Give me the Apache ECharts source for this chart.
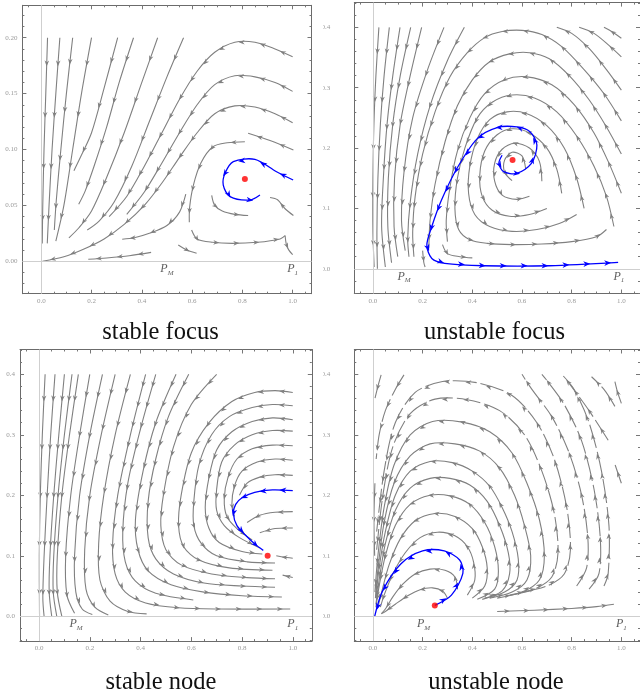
<!DOCTYPE html>
<html><head><meta charset="utf-8">
<script src="https://cdn.jsdelivr.net/npm/echarts@6/dist/echarts.min.js"></script>
<style>html,body{margin:0;padding:0;background:#fff}#c{width:640px;height:695px}</style>
</head><body><div id="c"></div>
<script>
// ---------------- data ----------------
const titles = ['stable focus', 'unstable focus', 'stable node', 'unstable node'];
const xMajor = [0.0, 0.2, 0.4, 0.6, 0.8, 1.0];
const yMajorP1 = [0.00, 0.05, 0.10, 0.15, 0.20];
const yMajor = [0.0, 0.1, 0.2, 0.3, 0.4];
const fixedPoints = [[0.81, 0.0736], [0.562, 0.18], [0.901, 0.1], [0.249, 0.018]];
const pmX = [0.5, 0.125, 0.146, 0.204];
const p1X = [1.0, 0.99, 1.0, 1.0];

// stable focus streamlines (points listed in flow direction)
const grayP1 = [
  [[0.025,0.2],[0.018,0.15],[0.011,0.1],[0.006,0.05],[0.004,0.016]],
  [[0.074,0.2],[0.058,0.15],[0.043,0.1],[0.031,0.05],[0.024,0.016]],
  [[0.125,0.2],[0.1,0.15],[0.078,0.1],[0.06,0.055],[0.052,0.028]],
  [[0.2,0.2],[0.16,0.15],[0.125,0.1],[0.09,0.05],[0.058,0.018]],
  [[0.304,0.2],[0.25,0.155],[0.2,0.115],[0.16,0.095],[0.13,0.081]],
  [[0.367,0.2],[0.31,0.16],[0.26,0.12],[0.21,0.085],[0.175,0.063],[0.149,0.051]],
  [[0.463,0.2],[0.4,0.16],[0.33,0.115],[0.26,0.075],[0.2,0.045],[0.15,0.03],[0.11,0.021]],
  [[0.566,0.2],[0.5,0.165],[0.43,0.125],[0.36,0.085],[0.29,0.053],[0.23,0.036],[0.183,0.028]],
  [[1.0,0.183],[0.93,0.19],[0.85,0.196],[0.77,0.196],[0.69,0.187],[0.62,0.17],[0.55,0.145],[0.48,0.115],[0.41,0.085],[0.34,0.058],[0.27,0.04]],
  [[1.0,0.152],[0.93,0.16],[0.85,0.165],[0.77,0.166],[0.69,0.158],[0.62,0.14],[0.55,0.115],[0.48,0.088],[0.41,0.062],[0.34,0.042]],
  [[1.0,0.124],[0.93,0.132],[0.85,0.138],[0.77,0.139],[0.69,0.132],[0.62,0.115],[0.55,0.093],[0.48,0.07],[0.41,0.05],[0.33,0.033],[0.25,0.02],[0.17,0.011],[0.09,0.004],[0.005,0.0]],
  [[1.003,0.0996],[0.91,0.108],[0.823,0.1145]],
  [[0.81,0.107],[0.74,0.106],[0.683,0.1025],[0.635,0.088],[0.605,0.068],[0.59,0.048],[0.589,0.035]],
  [[0.575,0.06],[0.55,0.044],[0.5,0.032],[0.43,0.025],[0.37,0.021],[0.322,0.0197]],
  [[0.437,0.008],[0.35,0.005],[0.26,0.003],[0.187,0.0018]],
  [[0.678,0.059],[0.69,0.05],[0.72,0.045],[0.77,0.042],[0.823,0.041]],
  [[0.598,0.028],[0.62,0.02],[0.68,0.017],[0.76,0.016],[0.86,0.017],[0.95,0.02],[0.97,0.023]],
  [[0.97,0.023],[0.975,0.015],[0.985,0.01],[1.0,0.006]],
  [[1.003,0.041],[0.97,0.047],[0.94,0.055],[0.91,0.057]],
  [[0.545,0.0146],[0.58,0.01],[0.618,0.0072]]
];
const gapP1 = [50,50,50,50,45,45,45,45];
const blueP1 = [
  [[1.002,0.0727],[0.936,0.0801],[0.85,0.0912],[0.764,0.0891],[0.731,0.0787],[0.724,0.0682],[0.751,0.0578],[0.83,0.0548],[0.87,0.0593]]
];

// unstable focus streamlines
const grayP2 = [
  [[0.024,0.4],[0.012,0.32],[0.004,0.24],[0.0,0.15],[0.0,0.06],[0.005,0.003]],
  [[0.066,0.4],[0.045,0.32],[0.03,0.24],[0.02,0.15],[0.016,0.06],[0.018,0.0]],
  [[0.109,0.4],[0.08,0.32],[0.057,0.24],[0.042,0.15],[0.035,0.07],[0.05,0.003]],
  [[0.152,0.4],[0.11,0.32],[0.08,0.24],[0.062,0.15],[0.06,0.07],[0.075,0.01]],
  [[0.196,0.4],[0.15,0.32],[0.11,0.24],[0.087,0.15],[0.085,0.07],[0.1,0.02]],
  [[0.286,0.4],[0.22,0.33],[0.16,0.25],[0.125,0.16],[0.115,0.08],[0.13,0.03]],
  [[0.368,0.4],[0.3,0.345],[0.23,0.27],[0.18,0.19],[0.15,0.11],[0.14,0.05],[0.145,0.02]],
  [[1.0,0.382],[0.965,0.392],[0.93,0.4]],
  [[1.0,0.351],[0.95,0.37],[0.89,0.39],[0.83,0.4]],
  [[1.0,0.296],[0.94,0.33],[0.87,0.365],[0.8,0.39],[0.74,0.4]],
  [[1.0,0.245],[0.93,0.29],[0.85,0.33],[0.76,0.368],[0.68,0.388],[0.6,0.395],[0.52,0.393],[0.45,0.383],[0.38,0.358],[0.31,0.318],[0.25,0.26],[0.2,0.19],[0.17,0.12],[0.16,0.06],[0.165,0.02]],
  [[1.0,0.19],[0.94,0.235],[0.87,0.28],[0.79,0.32],[0.71,0.348],[0.63,0.358],[0.55,0.356],[0.47,0.343],[0.4,0.313],[0.34,0.27],[0.29,0.21],[0.25,0.14],[0.23,0.08],[0.225,0.035]],
  [[1.0,0.125],[0.95,0.175],[0.89,0.225],[0.81,0.272],[0.72,0.305],[0.62,0.318],[0.53,0.313],[0.45,0.29],[0.39,0.25],[0.34,0.195],[0.31,0.135],[0.295,0.08],[0.3,0.045]],
  [[0.97,0.07],[0.94,0.12],[0.89,0.17],[0.82,0.22],[0.74,0.26],[0.65,0.283],[0.56,0.288],[0.48,0.276],[0.42,0.25],[0.37,0.2],[0.34,0.15],[0.33,0.1],[0.345,0.065],[0.39,0.048],[0.46,0.042],[0.56,0.04],[0.68,0.041],[0.8,0.045],[0.9,0.053],[0.94,0.065]],
  [[0.85,0.1],[0.82,0.15],[0.77,0.2],[0.7,0.237],[0.62,0.257],[0.54,0.26],[0.47,0.247],[0.42,0.215],[0.39,0.17],[0.385,0.125],[0.41,0.09],[0.47,0.07],[0.56,0.062],[0.66,0.065],[0.75,0.075],[0.82,0.09]],
  [[0.76,0.125],[0.74,0.165],[0.7,0.2],[0.63,0.225],[0.56,0.232],[0.5,0.222],[0.45,0.195],[0.43,0.155],[0.44,0.12],[0.48,0.097],[0.55,0.087],[0.63,0.09],[0.7,0.1]],
  [[0.68,0.145],[0.67,0.178],[0.63,0.2],[0.57,0.208],[0.52,0.198],[0.49,0.175],[0.49,0.145],[0.52,0.122],[0.58,0.115],[0.63,0.12]],
  [[0.615,0.165],[0.6,0.187],[0.56,0.193],[0.53,0.18],[0.53,0.16],[0.56,0.146]],
  [[0.28,0.04],[0.3,0.025],[0.35,0.02],[0.4,0.018]],
  [[0.2,0.03],[0.205,0.01],[0.21,0.003]]
];
const gapP2 = [45,45,42,40,38,35,32];
const blueP2 = [
  [[0.52,0.188],[0.507,0.1745],[0.526,0.161],[0.579,0.158],[0.638,0.1745],[0.66,0.205],[0.632,0.227],[0.579,0.235],[0.5,0.234],[0.421,0.216],[0.342,0.169],[0.276,0.114],[0.237,0.07],[0.217,0.039],[0.237,0.017],[0.289,0.009],[0.447,0.005],[0.711,0.005],[0.987,0.0105]]
];

// stable node streamlines
const grayP3 = [
  [[0.024,0.4],[0.013,0.3],[0.005,0.2],[0.001,0.1],[0.002,0.0]],
  [[0.063,0.4],[0.046,0.3],[0.032,0.2],[0.02,0.1],[0.015,0.03],[0.02,0.0]],
  [[0.1,0.4],[0.078,0.3],[0.058,0.2],[0.043,0.1],[0.04,0.04],[0.05,0.0]],
  [[0.13,0.4],[0.1,0.3],[0.075,0.2],[0.058,0.1],[0.056,0.04],[0.07,0.0]],
  [[0.155,0.4],[0.12,0.3],[0.09,0.2],[0.072,0.1],[0.072,0.04],[0.09,0.0]],
  [[0.2,0.4],[0.16,0.3],[0.125,0.2],[0.105,0.1],[0.11,0.035],[0.14,0.005]],
  [[0.25,0.4],[0.2,0.3],[0.16,0.2],[0.14,0.1],[0.145,0.04],[0.17,0.012],[0.21,0.003]],
  [[0.3,0.4],[0.245,0.3],[0.2,0.2],[0.18,0.11],[0.185,0.045],[0.22,0.015],[0.273,0.002]],
  [[0.36,0.4],[0.3,0.3],[0.255,0.2],[0.235,0.12],[0.24,0.06],[0.28,0.025],[0.35,0.008],[0.424,0.004]],
  [[0.42,0.4],[0.36,0.3],[0.31,0.2],[0.29,0.12],[0.3,0.07],[0.34,0.04],[0.42,0.022],[0.55,0.014],[0.7,0.012],[0.99,0.012]],
  [[0.46,0.4],[0.4,0.31],[0.35,0.22],[0.33,0.14],[0.34,0.09],[0.38,0.058],[0.46,0.038],[0.608,0.027]],
  [[0.54,0.4],[0.46,0.32],[0.41,0.24],[0.38,0.16],[0.39,0.11],[0.43,0.075],[0.52,0.052],[0.65,0.04],[0.8,0.034],[0.957,0.032]],
  [[0.59,0.4],[0.51,0.33],[0.46,0.26],[0.43,0.19],[0.43,0.13],[0.46,0.095],[0.53,0.07],[0.65,0.055],[0.8,0.05],[0.93,0.048]],
  [[0.7,0.4],[0.6,0.35],[0.53,0.28],[0.49,0.2],[0.48,0.15],[0.5,0.11],[0.56,0.085],[0.68,0.07],[0.82,0.064],[0.93,0.062]],
  [[1.0,0.37],[0.93,0.373],[0.85,0.37],[0.76,0.355],[0.67,0.32],[0.6,0.27],[0.56,0.2],[0.55,0.15],[0.57,0.115],[0.63,0.093],[0.75,0.08],[0.92,0.076]],
  [[1.0,0.348],[0.92,0.35],[0.84,0.345],[0.75,0.33],[0.68,0.3],[0.63,0.25],[0.61,0.19],[0.61,0.15],[0.64,0.12],[0.7,0.1],[0.82,0.09],[0.93,0.088]],
  [[1.0,0.325],[0.92,0.328],[0.84,0.322],[0.76,0.305],[0.7,0.275],[0.67,0.23],[0.655,0.18],[0.67,0.145],[0.71,0.122],[0.8,0.107],[0.88,0.103]],
  [[1.0,0.306],[0.92,0.307],[0.84,0.3],[0.77,0.283],[0.72,0.255],[0.7,0.21],[0.7,0.175],[0.73,0.15],[0.79,0.13],[0.87,0.113]],
  [[1.0,0.282],[0.92,0.283],[0.84,0.277],[0.78,0.26],[0.745,0.23],[0.73,0.195],[0.74,0.165],[0.78,0.145],[0.84,0.126]],
  [[1.0,0.258],[0.93,0.26],[0.86,0.255],[0.8,0.24],[0.77,0.215],[0.76,0.185],[0.77,0.165]],
  [[1.0,0.233],[0.93,0.234],[0.87,0.23],[0.82,0.22],[0.79,0.2]],
  [[1.0,0.173],[0.93,0.172],[0.87,0.167],[0.82,0.155]],
  [[1.0,0.146],[0.93,0.145],[0.87,0.138]],
  [[1.0,0.096],[0.96,0.098],[0.935,0.1]],
  [[1.0,0.064],[0.96,0.068]]
];
const gapP3 = [50,50,48,45,45,42,40,38,35];
const blueP3 = [
  [[1.0,0.2077],[0.92,0.209],[0.85,0.205],[0.8,0.196],[0.775,0.185],[0.766,0.17],[0.78,0.15],[0.819,0.132],[0.855,0.118],[0.884,0.109]]
];

// unstable node streamlines
const grayP4 = [
  [[0.3,0.03],[0.28,0.042],[0.24,0.047],[0.19,0.044],[0.14,0.034],[0.09,0.02],[0.05,0.008],[0.033,0.004]],
  [[0.34,0.045],[0.33,0.065],[0.29,0.076],[0.23,0.078],[0.17,0.07],[0.12,0.053],[0.08,0.032],[0.05,0.012],[0.035,0.005]],
  [[0.38,0.035],[0.41,0.06],[0.405,0.09],[0.38,0.115],[0.33,0.133],[0.26,0.139],[0.19,0.13],[0.13,0.105],[0.08,0.07],[0.045,0.035],[0.03,0.015]],
  [[0.4,0.03],[0.45,0.05],[0.46,0.08],[0.44,0.115],[0.4,0.145],[0.33,0.165],[0.25,0.17],[0.17,0.158],[0.11,0.128],[0.065,0.085],[0.035,0.04],[0.02,0.015]],
  [[0.42,0.028],[0.49,0.045],[0.505,0.075],[0.49,0.115],[0.45,0.155],[0.39,0.185],[0.31,0.199],[0.23,0.2],[0.15,0.185],[0.09,0.15],[0.05,0.1],[0.025,0.05],[0.012,0.015]],
  [[0.44,0.028],[0.52,0.042],[0.55,0.07],[0.545,0.105],[0.51,0.15],[0.46,0.19],[0.39,0.217],[0.31,0.228],[0.23,0.228],[0.15,0.212],[0.09,0.175],[0.05,0.12],[0.025,0.06],[0.012,0.02]],
  [[0.45,0.03],[0.53,0.04],[0.58,0.06],[0.585,0.095],[0.56,0.14],[0.52,0.18],[0.47,0.215],[0.4,0.24],[0.32,0.254],[0.23,0.256],[0.15,0.24],[0.09,0.2],[0.05,0.14],[0.025,0.08],[0.012,0.03]],
  [[0.47,0.03],[0.56,0.04],[0.62,0.06],[0.635,0.1],[0.61,0.15],[0.57,0.2],[0.51,0.245],[0.43,0.273],[0.33,0.285],[0.23,0.285],[0.15,0.265],[0.085,0.22],[0.045,0.155],[0.022,0.085],[0.01,0.03]],
  [[0.5,0.03],[0.6,0.04],[0.67,0.06],[0.69,0.1],[0.67,0.16],[0.62,0.22],[0.56,0.27],[0.47,0.305],[0.36,0.321],[0.24,0.322],[0.15,0.3],[0.085,0.25],[0.045,0.18],[0.02,0.1],[0.008,0.04]],
  [[0.55,0.035],[0.65,0.045],[0.72,0.065],[0.745,0.105],[0.73,0.17],[0.68,0.24],[0.61,0.3],[0.51,0.34],[0.38,0.358],[0.25,0.359],[0.15,0.335],[0.08,0.28],[0.04,0.2],[0.015,0.11]],
  [[0.6,0.04],[0.7,0.05],[0.77,0.07],[0.795,0.11],[0.78,0.18],[0.73,0.26],[0.66,0.32],[0.56,0.365],[0.42,0.386],[0.28,0.388],[0.17,0.37],[0.09,0.32],[0.045,0.24],[0.015,0.14]],
  [[0.82,0.05],[0.86,0.08],[0.865,0.13],[0.84,0.2],[0.79,0.27],[0.72,0.33],[0.64,0.375],[0.6,0.4]],
  [[0.87,0.045],[0.91,0.071],[0.915,0.13],[0.89,0.21],[0.84,0.29],[0.77,0.35],[0.7,0.39],[0.68,0.4]],
  [[0.93,0.05],[0.947,0.071],[0.95,0.15],[0.92,0.24],[0.87,0.32],[0.81,0.375],[0.76,0.4]],
  [[0.947,0.291],[0.87,0.34],[0.79,0.385]],
  [[0.974,0.347],[0.93,0.375],[0.88,0.396]],
  [[1.0,0.352],[0.985,0.37],[0.974,0.388]],
  [[1.0,0.22],[0.975,0.25]],
  [[0.125,0.399],[0.09,0.375],[0.05,0.34],[0.025,0.3],[0.013,0.26]],
  [[0.033,0.399],[0.02,0.38],[0.007,0.358]],
  [[0.008,0.22],[0.004,0.16],[0.007,0.1]],
  [[0.5,0.008],[0.65,0.01],[0.8,0.013],[0.9,0.016],[0.97,0.02]]
];
const dashP4 = [9,10,11,12,13,14,15,16,17,18,19];
const gapP4 = [];
const blueP4 = [
  [[0.249,0.018],[0.316,0.035],[0.362,0.071],[0.349,0.093],[0.287,0.108],[0.2,0.108],[0.112,0.0865],[0.039,0.042],[0.007,0.0]]
];

// ---------------- layout ----------------
const panels = [
  {left:22.4, top:5.3, width:289.1, height:288.4, ymin:-0.029, ymax:0.229, yMajor:yMajorP1, yMinorStep:0.01, yDec:2, gray:grayP1, gap:gapP1, dash:[], blue:blueP1, tx:160.5, ty:333},
  {left:354.3, top:2.6, width:291.4, height:290.9, ymin:-0.041, ymax:0.441, yMajor:yMajor, yMinorStep:0.02, yDec:1, gray:grayP2, gap:gapP2, dash:[], blue:blueP2, tx:494.5, ty:333},
  {left:20.0, top:349.5, width:291.8, height:291.6, ymin:-0.041, ymax:0.441, yMajor:yMajor, yMinorStep:0.02, yDec:1, gray:grayP3, gap:gapP3, dash:[], blue:blueP3, tx:161, ty:683},
  {left:354.3, top:349.5, width:291.4, height:291.6, ymin:-0.041, ymax:0.441, yMajor:yMajor, yMinorStep:0.02, yDec:1, gray:grayP4, gap:gapP4, dash:dashP4, blue:blueP4, tx:496, ty:683}
];
const XMIN = -0.075, XMAX = 1.075;

function steps(a, b, s) { const r = []; for (let i = Math.ceil(a / s - 1e-9); i * s <= b + 1e-9; i++) r.push(+(i * s).toFixed(4)); return r; }

const FRAME = '#6b6b6b', TICK = '#777', LABEL = '#9a9a9a';
const grid = [], xAxis = [], yAxis = [], series = [], graphic = [];

function makeRender(lines, gaps, dashed, color, lw, defGap, aLen, aW) {
  return function (params, api) {
    const idx = api.value(2);
    const line = lines[idx];
    const spacing = gaps[idx] || defGap;
    const pts = line.map(p => api.coord(p));
    const style = {stroke:color, lineWidth:lw, fill:null};
    if (dashed.indexOf(idx) >= 0) style.lineDash = [24, 4];
    const children = [{type:'polyline', shape:{points:pts, smooth:0.3}, style}];
    let total = 0;
    for (let k = 1; k < pts.length; k++) total += Math.hypot(pts[k][0]-pts[k-1][0], pts[k][1]-pts[k-1][1]);
    const n = Math.max(1, Math.round(total / spacing));
    const step = total / n;
    let acc = 0, next = step / 2;
    for (let k = 1; k < pts.length; k++) {
      const x0 = pts[k-1][0], y0 = pts[k-1][1], x1 = pts[k][0], y1 = pts[k][1];
      const seg = Math.hypot(x1 - x0, y1 - y0);
      if (seg < 1e-6) continue;
      const ux = (x1 - x0) / seg, uy = (y1 - y0) / seg;
      while (acc + seg >= next) {
        const t = (next - acc) / seg;
        const cx = x0 + (x1 - x0) * t, cy = y0 + (y1 - y0) * t;
        const tip = [cx + ux * aLen / 2, cy + uy * aLen / 2];
        const bx = cx - ux * aLen / 2, by = cy - uy * aLen / 2;
        children.push({type:'polygon', shape:{points:[tip, [bx - uy * aW, by + ux * aW], [cx - ux * aLen * 0.2, cy - uy * aLen * 0.2], [bx + uy * aW, by - ux * aW]]}, style:{fill:color, stroke:null}});
        next += step;
      }
      acc += seg;
    }
    return {type:'group', children};
  };
}

panels.forEach((P, g) => {
  grid.push({left:P.left, top:P.top, width:P.width, height:P.height, containLabel:false});
  const xMinor = steps(XMIN, XMAX, 0.05);
  const yMinor = steps(P.ymin, P.ymax, P.yMinorStep);
  const base = {gridIndex:g, type:'value', min:XMIN, max:XMAX, splitLine:{show:false}};
  xAxis.push(Object.assign({}, base, {position:'bottom', axisLine:{show:true, onZero:false, lineStyle:{color:FRAME, width:1}},
    axisTick:{show:true, inside:true, length:4, customValues:xMajor, lineStyle:{color:TICK}},
    axisLabel:{show:true, customValues:xMajor, formatter:v => (+v).toFixed(1), color:LABEL, fontSize:7, fontFamily:'Liberation Serif', margin:4}}));
  xAxis.push(Object.assign({}, base, {position:'bottom', axisLine:{show:false, onZero:false}, axisTick:{show:true, inside:true, length:2, customValues:xMinor, lineStyle:{color:TICK}}, axisLabel:{show:false}}));
  xAxis.push(Object.assign({}, base, {position:'top', axisLine:{show:true, onZero:false, lineStyle:{color:FRAME, width:1}}, axisTick:{show:true, inside:true, length:4, customValues:xMajor, lineStyle:{color:TICK}}, axisLabel:{show:false}}));
  xAxis.push(Object.assign({}, base, {position:'top', axisLine:{show:false, onZero:false}, axisTick:{show:true, inside:true, length:2, customValues:xMinor, lineStyle:{color:TICK}}, axisLabel:{show:false}}));
  const ybase = {gridIndex:g, type:'value', min:P.ymin, max:P.ymax, splitLine:{show:false}};
  yAxis.push(Object.assign({}, ybase, {position:'left', axisLine:{show:true, onZero:false, lineStyle:{color:FRAME, width:1}},
    axisTick:{show:true, inside:true, length:4, customValues:P.yMajor, lineStyle:{color:TICK}},
    axisLabel:{show:true, customValues:P.yMajor, formatter:v => (+v).toFixed(P.yDec), color:LABEL, fontSize:7, fontFamily:'Liberation Serif', margin:(g % 2 ? 24 : 5)}}));
  yAxis.push(Object.assign({}, ybase, {position:'left', axisLine:{show:false, onZero:false}, axisTick:{show:true, inside:true, length:2, customValues:yMinor, lineStyle:{color:TICK}}, axisLabel:{show:false}}));
  yAxis.push(Object.assign({}, ybase, {position:'right', axisLine:{show:true, onZero:false, lineStyle:{color:FRAME, width:1}}, axisTick:{show:true, inside:true, length:4, customValues:P.yMajor, lineStyle:{color:TICK}}, axisLabel:{show:false}}));
  yAxis.push(Object.assign({}, ybase, {position:'right', axisLine:{show:false, onZero:false}, axisTick:{show:true, inside:true, length:2, customValues:yMinor, lineStyle:{color:TICK}}, axisLabel:{show:false}}));

  const xi = g * 4, yi = g * 4;
  series.push({type:'scatter', xAxisIndex:xi, yAxisIndex:yi, symbolSize:0, silent:true, z:1,
    data:[[pmX[g], 0, 'M'], [p1X[g], 0, '1']],
    label:{show:true, position:'bottom', distance:1, formatter:p => '{p|P}{s|' + p.value[2] + '}',
      rich:{p:{fontFamily:'Liberation Serif', fontStyle:'italic', fontSize:12, color:'#333'}, s:{fontFamily:'Liberation Serif', fontStyle:'italic', fontSize:7, color:'#333', padding:[7,0,0,0]}}},
    markLine:{silent:true, symbol:'none', animation:false, label:{show:false}, lineStyle:{color:'#cfcfcf', type:'solid', width:1},
      data:[{xAxis:0}, {yAxis:0}]}});
  series.push({type:'custom', xAxisIndex:xi, yAxisIndex:yi, z:3, silent:true, animation:false,
    renderItem:makeRender(P.gray, P.gap, P.dash, '#808080', 1.1, 21, 6, 2.3), clip:true,
    data:P.gray.map((l, i) => [l[0][0], l[0][1], i])});
  series.push({type:'custom', xAxisIndex:xi, yAxisIndex:yi, z:4, silent:true, animation:false,
    renderItem:makeRender(P.blue, [], [], '#0000ff', 1.3, 21, 7, 2.8), clip:true,
    data:P.blue.map((l, i) => [l[0][0], l[0][1], i])});
  series.push({type:'scatter', xAxisIndex:xi, yAxisIndex:yi, z:5, silent:true, symbolSize:6,
    itemStyle:{color:'#ff0000'}, data:[fixedPoints[g]]});
  graphic.push({type:'text', x:P.tx, y:P.ty, silent:true, style:{text:titles[g], align:'center', verticalAlign:'middle', font:'24.5px "Liberation Serif"', fill:'#111'}});
});

graphic.push({type:'rect', shape:{x:313, y:0, width:10, height:695}, style:{fill:'#fff'}, z:100, silent:true});

const chart = echarts.init(document.getElementById('c'), null, {renderer:'canvas'});
chart.setOption({animation:false, grid, xAxis, yAxis, series, graphic});
</script>
</body></html>
